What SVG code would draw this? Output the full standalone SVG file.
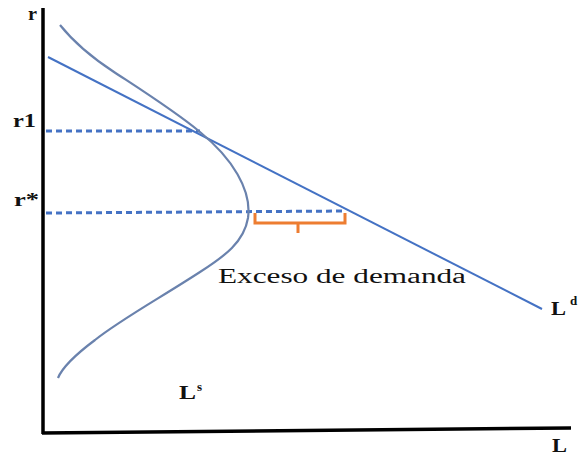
<svg xmlns="http://www.w3.org/2000/svg" width="579" height="456" viewBox="0 0 579 456">
<style>
.t{font-family:"Liberation Serif","Times New Roman",serif;font-size:19px;fill:#111}
.b{font-weight:bold}
.sup{font-size:13px}
.dot{stroke:#4472c4;stroke-width:3;stroke-dasharray:6 4;fill:none}
</style>
<rect width="579" height="456" fill="#fff"/>
<g id="axes" stroke="#000" stroke-width="3.5" fill="none">
<line x1="43" y1="8" x2="43" y2="434"/>
<line x1="42" y1="433" x2="571" y2="428"/>
</g>
<g id="connectors">
<line class="dot" x1="46" y1="131" x2="200" y2="131"/>
<line class="dot" x1="46" y1="213" x2="345" y2="211"/>
</g>
<g id="demand">
<line x1="48" y1="57" x2="542" y2="309" stroke="#4472c4" stroke-width="2"/>
</g>
<g id="supply">
<path d="M60,25 C72,40 88,55 114,72 C146,93 176,112 200,132 C232,158 252,190 248,218 C244,242 225,256 200,272 C160,298 120,320 95,340 C75,355 62,368 58,378" fill="none" stroke="#6a82ad" stroke-width="2.2"/>
</g>
<g id="bracket">
<path d="M255,213 V223 H345 V213 M298,223 V233" fill="none" stroke="#ed7d31" stroke-width="3"/>
</g>
<g id="labels">
<text class="t b" x="28" y="20" textLength="9" lengthAdjust="spacingAndGlyphs">r</text>
<text class="t b" x="13" y="127" textLength="23" lengthAdjust="spacingAndGlyphs">r1</text>
<text class="t b" x="14" y="206" textLength="25" lengthAdjust="spacingAndGlyphs">r*</text>
<text class="t" x="218" y="283" style="font-size:20px" textLength="248" lengthAdjust="spacingAndGlyphs">Exceso de demanda</text>
<text class="t b" x="551" y="315" textLength="15" lengthAdjust="spacingAndGlyphs">L</text>
<text class="t sup b" x="570" y="305">d</text>
<text class="t b" x="179" y="399" textLength="17" lengthAdjust="spacingAndGlyphs">L</text>
<text class="t sup b" x="197" y="391">s</text>
<text class="t b" x="552" y="452" textLength="15" lengthAdjust="spacingAndGlyphs">L</text>
</g>
</svg>
